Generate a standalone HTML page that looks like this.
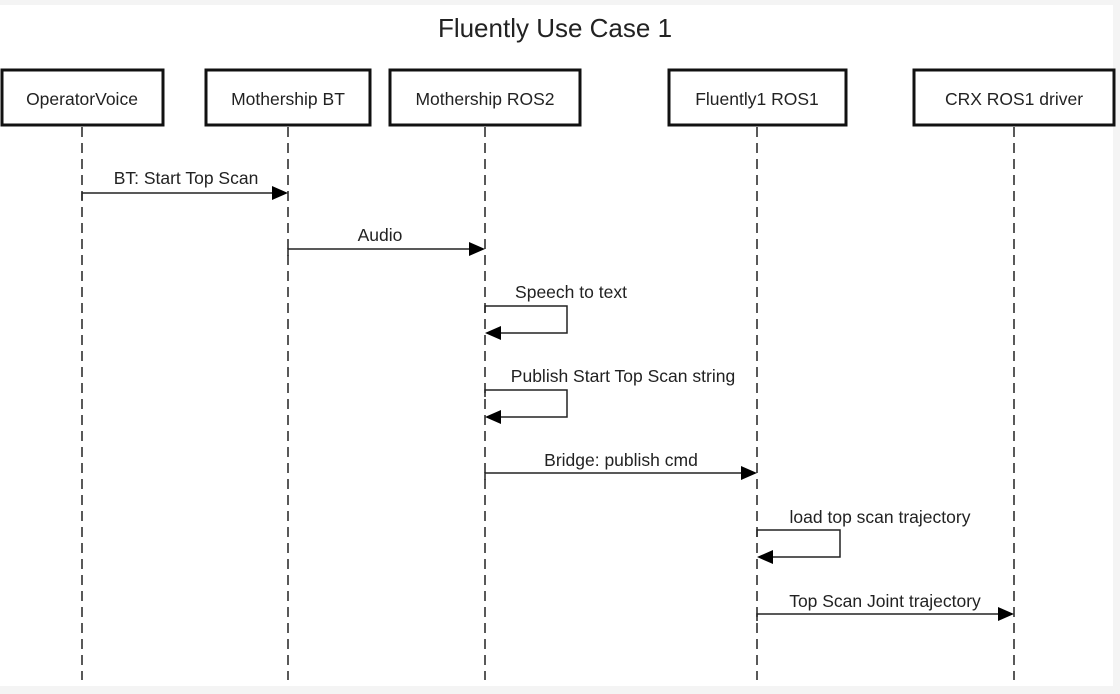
<!DOCTYPE html>
<html><head><meta charset="utf-8"><style>
html,body{margin:0;padding:0;background:#f4f4f4;}
svg{display:block;}
text{font-family:"Liberation Sans",Arial,sans-serif;fill:#222;}
</style></head><body>
<svg width="1120" height="694" viewBox="0 0 1120 694">
<rect x="0" y="5" width="1113" height="681" fill="#fff"/>
<text x="555" y="37" font-size="26" text-anchor="middle">Fluently Use Case 1</text>
<g fill="#fff" stroke="#111" stroke-width="3">
<rect x="2" y="70" width="161" height="55"/>
<rect x="206" y="70" width="164" height="55"/>
<rect x="390" y="70" width="190" height="55"/>
<rect x="669" y="70" width="177" height="55"/>
<rect x="914" y="70" width="200" height="55"/>
</g>
<g font-size="17.5" text-anchor="middle">
<text x="82" y="105">OperatorVoice</text>
<text x="288" y="105">Mothership BT</text>
<text x="485" y="105">Mothership ROS2</text>
<text x="757" y="105">Fluently1 ROS1</text>
<text x="1014" y="105">CRX ROS1 driver</text>
</g>
<g stroke="#222" stroke-width="1.5" stroke-dasharray="10,6">
<line x1="82" y1="127" x2="82" y2="680"/>
<line x1="288" y1="127" x2="288" y2="680"/>
<line x1="485" y1="127" x2="485" y2="680"/>
<line x1="757" y1="127" x2="757" y2="680"/>
<line x1="1014" y1="127" x2="1014" y2="680"/>
</g>
<g stroke="#222" stroke-width="1.5" fill="none">
<path d="M82 200V193H272"/>
<path d="M288 256V249H469"/>
<path d="M485 313V306H567V333H501"/>
<path d="M485 397V390H567V417H501"/>
<path d="M485 480V473H741"/>
<path d="M757 537V530H840V557H773"/>
<path d="M757 621V614H998"/>
</g>
<g fill="#000">
<path d="M272 186L288 193L272 200Z"/>
<path d="M469 242L485 249L469 256Z"/>
<path d="M501 326L485 333L501 340Z"/>
<path d="M501 410L485 417L501 424Z"/>
<path d="M741 466L757 473L741 480Z"/>
<path d="M773 550L757 557L773 564Z"/>
<path d="M998 607L1014 614L998 621Z"/>
</g>
<g font-size="17.5" text-anchor="middle">
<text x="186" y="184">BT: Start Top Scan</text>
<text x="380" y="241">Audio</text>
<text x="571" y="298">Speech to text</text>
<text x="623" y="382">Publish Start Top Scan string</text>
<text x="621" y="466">Bridge: publish cmd</text>
<text x="880" y="523">load top scan trajectory</text>
<text x="885" y="607">Top Scan Joint trajectory</text>
</g>
</svg>
</body></html>
